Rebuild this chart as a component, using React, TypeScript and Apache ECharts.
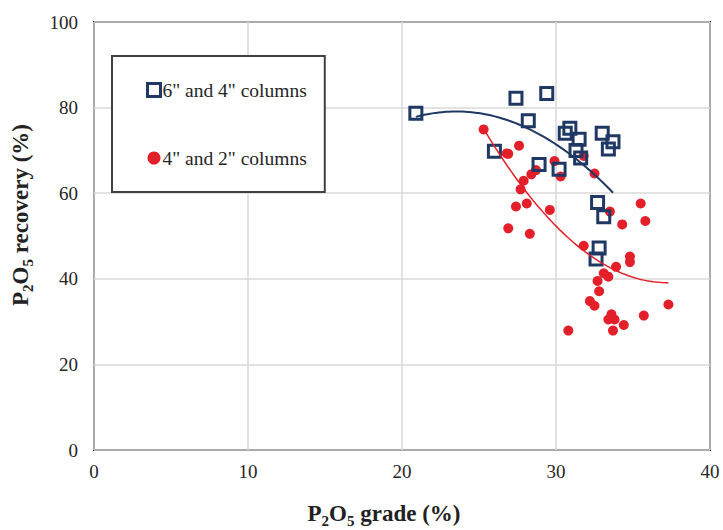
import React, { useEffect, useRef } from "react";
import * as echarts from "echarts";

// 6" and 4" columns: P2O5 grade (%), recovery (%)
const grade64: number[] = [20.9, 26.0, 27.4, 28.2, 28.9, 29.4, 30.2, 30.6, 30.9, 31.3, 31.5, 31.6, 32.7, 33.0, 33.1, 33.4, 33.7, 32.8, 32.6];
const recovery64: number[] = [78.7, 69.8, 82.2, 76.9, 66.7, 83.3, 65.6, 74.0, 75.2, 70.0, 72.6, 68.2, 57.8, 74.0, 54.5, 70.3, 72.0, 47.2, 44.6];

// 4" and 2" columns
const grade42: number[] = [25.3, 27.6, 26.8, 26.9, 29.9, 31.8, 28.7, 28.4, 30.3, 32.5, 27.9, 27.7, 35.5, 33.5, 29.6, 27.4, 28.1, 26.9, 28.3, 34.3, 35.8, 31.8, 34.8, 34.8, 33.9, 33.1, 33.4, 32.7, 32.8, 32.2, 32.5, 37.3, 35.7, 33.6, 33.4, 33.8, 34.4, 33.7, 30.8];
const recovery42: number[] = [74.9, 71.1, 69.3, 69.2, 67.5, 68.7, 65.4, 64.4, 63.9, 64.6, 62.9, 60.9, 57.6, 55.7, 56.1, 56.9, 57.6, 51.8, 50.5, 52.7, 53.5, 47.7, 45.2, 43.9, 42.8, 41.3, 40.5, 39.5, 37.1, 34.8, 33.7, 34.0, 31.4, 31.7, 30.5, 30.5, 29.2, 27.9, 27.9];

const xTicks = [0, 10, 20, 30, 40];
const yTicks = [0, 20, 40, 60, 80, 100];

const series64Name = '6" and 4" columns';
const series42Name = '4" and 2" columns';

// Excel-style 2nd-order polynomial trendline (least squares) over the data range
function polyFit2(xs: number[], ys: number[]) {
  const n = xs.length;
  let sx = 0, sx2 = 0, sx3 = 0, sx4 = 0, sy = 0, sxy = 0, sx2y = 0;
  for (let i = 0; i < n; i++) {
    const x = xs[i], y = ys[i];
    sx += x; sx2 += x * x; sx3 += x * x * x; sx4 += x * x * x * x;
    sy += y; sxy += x * y; sx2y += x * x * y;
  }
  const M = [
    [n, sx, sx2, sy],
    [sx, sx2, sx3, sxy],
    [sx2, sx3, sx4, sx2y],
  ];
  for (let c = 0; c < 3; c++) {
    let p = c;
    for (let r = c + 1; r < 3; r++) if (Math.abs(M[r][c]) > Math.abs(M[p][c])) p = r;
    [M[c], M[p]] = [M[p], M[c]];
    for (let r = 0; r < 3; r++) {
      if (r === c) continue;
      const f = M[r][c] / M[c][c];
      for (let k = c; k < 4; k++) M[r][k] -= f * M[c][k];
    }
  }
  const a0 = M[0][3] / M[0][0], a1 = M[1][3] / M[1][1], a2 = M[2][3] / M[2][2];
  const lo = Math.min(...xs), hi = Math.max(...xs);
  const pts: number[][] = [];
  const steps = 60;
  for (let i = 0; i <= steps; i++) {
    const x = lo + ((hi - lo) * i) / steps;
    pts.push([x, a0 + a1 * x + a2 * x * x]);
  }
  return pts;
}

const NAVY = "#1f3864";
const RED = "#e3202a";
const FONT = "Liberation Serif";

export default function App() {
  const ref = useRef<HTMLDivElement>(null);
  useEffect(() => {
    document.body.style.margin = "0";
    if (!ref.current) return;
    const chart = echarts.init(ref.current, undefined, { renderer: "svg" });
    const richTitle = {
      m: { fontFamily: FONT, fontSize: 23, fontWeight: "bold", color: "#222", lineHeight: 24, verticalAlign: "bottom" },
      s: { fontFamily: FONT, fontSize: 15, fontWeight: "bold", color: "#222", lineHeight: 24, verticalAlign: "bottom", padding: [0, 0, -3, 0] },
    };
    chart.setOption({
      animation: false,
      backgroundColor: "#fff",
      textStyle: { fontFamily: FONT },
      grid: { left: 94, right: 13, top: 22, bottom: 80, show: true, borderColor: "#262626", borderWidth: 2, containLabel: false, outerBoundsMode: "none" },
      legend: {
        orient: "vertical",
        left: 112,
        top: 56,
        padding: [24, 18, 24, 34],
        itemGap: 48,
        itemWidth: 13,
        itemHeight: 13,
        backgroundColor: "#fff",
        borderColor: "#404040",
        borderWidth: 2,
        borderRadius: 0,
        textStyle: { fontFamily: FONT, fontSize: 19.5, color: "#262626", padding: [0, 0, 0, -3] },
        data: [
          { name: series64Name, icon: "rect", itemStyle: { color: "#fff", borderColor: NAVY, borderWidth: 3 } },
          { name: series42Name, icon: "circle", itemStyle: { color: RED } },
        ],
      },
      xAxis: {
        type: "value",
        min: 0,
        max: 40,
        interval: 10,
        name: "{m|P}{s|2}{m|O}{s|5}{m| grade (%)}",
        nameLocation: "middle",
        nameGap: 51,
        nameTextStyle: { rich: richTitle, padding: [0, 36, 0, 0] },
        axisLine: { show: false },
        axisTick: { show: false },
        axisLabel: { fontFamily: FONT, fontSize: 19, color: "#262626", margin: 12, formatter: (v: number) => (xTicks.includes(v) ? String(v) : "") },
        splitLine: { show: true, lineStyle: { color: "#d9d9d9", width: 1.5 } },
      },
      yAxis: {
        type: "value",
        min: 0,
        max: 100,
        interval: 20,
        name: "{m|P}{s|2}{m|O}{s|5}{m| recovery (%)}",
        nameLocation: "middle",
        nameGap: 62,
        nameTextStyle: { rich: richTitle, padding: [0, 0, 0, 42] },
        axisLine: { show: false },
        axisTick: { show: false },
        axisLabel: { fontFamily: FONT, fontSize: 19, color: "#262626", margin: 16, formatter: (v: number) => (yTicks.includes(v) ? String(v) : "") },
        splitLine: { show: true, lineStyle: { color: "#d9d9d9", width: 1.5 } },
      },
      series: [
        {
          name: series42Name,
          type: "scatter",
          symbol: "circle",
          symbolSize: 10,
          itemStyle: { color: RED, opacity: 1 },
          data: grade42.map((g, i) => [g, recovery42[i]]),
          z: 3,
        },
        {
          name: series64Name,
          type: "scatter",
          symbol: "rect",
          symbolSize: 12,
          itemStyle: { color: "rgba(255,255,255,0)", borderColor: NAVY, borderWidth: 3, opacity: 1 },
          data: grade64.map((g, i) => [g, recovery64[i]]),
          z: 4,
        },
        {
          name: "trend64",
          type: "line",
          showSymbol: false,
          symbol: "none",
          smooth: false,
          lineStyle: { color: NAVY, width: 2 },
          data: polyFit2(grade64, recovery64),
          z: 5,
          silent: true,
        },
        {
          name: "trend42",
          type: "line",
          showSymbol: false,
          symbol: "none",
          smooth: false,
          lineStyle: { color: RED, width: 1.5 },
          data: polyFit2(grade42, recovery42),
          z: 5,
          silent: true,
        },
      ],
    });
    return () => chart.dispose();
  }, []);
  return <div ref={ref} style={{ width: 723, height: 530 }} />;
}
